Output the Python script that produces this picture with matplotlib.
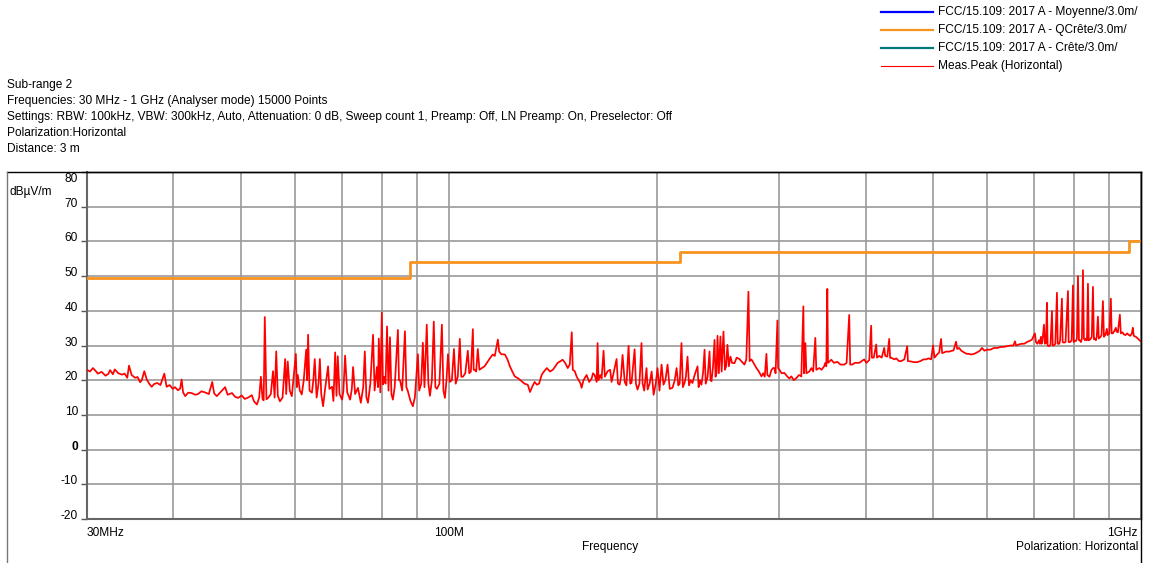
import numpy as np
from matplotlib import pyplot as plt
from matplotlib.lines import Line2D
from matplotlib.ticker import FixedLocator, NullFormatter

plt.rcParams['font.family'] = ['Liberation Sans', 'DejaVu Sans']

W, H = 1149, 563
FS = 8.6

# FCC 15.109 class A limit at 3 m (QCrete), step edges in MHz
limit_freq = [30, 88, 88, 216, 216, 960, 960, 1000]
limit_level = [49.5, 49.5, 54.0, 54.0, 56.9, 56.9, 60.0, 60.0]

meas_freq = [
    30.0, 30.3, 30.6, 30.9, 31.1, 31.5, 31.9, 32.2, 32.4, 32.7, 32.9, 33.3, 33.7, 34.0, 34.3, 34.5,
    34.8, 35.2, 35.5, 35.8, 36.0, 36.3, 36.6, 36.9, 37.2, 37.5, 37.9, 38.3, 38.8, 39.1, 39.5, 39.9,
    40.2, 40.6, 40.9, 41.1, 41.3, 41.6, 42.0, 42.5, 43.0, 43.4, 43.9, 44.4, 45.0, 45.5, 45.8, 46.2,
    46.8, 47.5, 47.9, 48.6, 49.1, 49.6, 50.2, 50.7, 51.3, 51.9, 52.3, 52.8, 53.2, 53.5, 53.8, 54.0,
    54.2, 54.5, 54.8, 55.3, 55.7, 56.0, 56.3, 56.6, 57.0, 57.5, 58.0, 58.2, 58.5, 58.9, 59.3, 59.6,
    60.1, 60.3, 60.5, 60.9, 61.3, 61.7, 62.2, 62.4, 62.6, 62.9, 63.4, 63.7, 64.0, 64.4, 64.8, 65.1,
    65.4, 65.8, 66.2, 66.9, 67.2, 67.8, 68.1, 68.5, 68.8, 69.1, 69.5, 70.1, 70.4, 70.8, 71.3, 72.0,
    72.4, 72.7, 73.2, 73.9, 74.6, 75.2, 75.6, 76.0, 76.4, 77.0, 77.7, 78.1, 78.7, 79.0, 79.2, 79.6,
    80.0, 80.3, 80.6, 81.0, 81.4, 81.8, 82.2, 82.6, 83.0, 83.5, 84.4, 84.7, 85.0, 85.6, 86.4, 86.8,
    87.2, 88.0, 88.7, 89.3, 90.2, 90.6, 91.2, 91.7, 92.2, 92.9, 93.4, 93.9, 94.5, 95.1, 95.6, 96.1,
    96.9, 97.7, 98.2, 98.7, 99.2, 99.7, 100.3, 101.0, 101.7, 102.3, 103.0, 103.7, 104.2, 104.8, 105.6, 106.5,
    107.0, 107.6, 108.3, 108.6, 109.0, 109.5, 110.1, 110.7, 111.6, 112.6, 113.8, 114.8, 115.7, 116.5, 117.7, 118.2,
    119.0, 120.5, 121.5, 122.5, 123.5, 124.5, 126.0, 127.4, 128.6, 130.0, 131.0, 132.0, 133.0, 134.0, 135.0, 136.2,
    137.2, 138.5, 140.0, 141.3, 142.5, 143.6, 145.0, 146.0, 147.2, 148.5, 149.5, 150.5, 151.0, 152.0, 153.0, 153.5,
    155.0, 155.5, 156.5, 158.1, 159.5, 160.8, 161.5, 162.4, 163.5, 164.0, 164.5, 165.5, 166.2, 167.3, 168.0, 169.6,
    171.0, 171.8, 172.5, 174.7, 175.5, 176.5, 177.3, 178.2, 179.5, 180.5, 181.8, 182.8, 183.6, 185.5, 186.3, 187.3,
    188.5, 189.8, 190.5, 191.5, 193.0, 193.7, 195.0, 196.3, 197.6, 199.0, 200.2, 201.5, 202.9, 204.2, 205.5, 207.0,
    208.5, 210.4, 212.0, 213.3, 214.5, 215.5, 216.8, 217.8, 219.0, 220.0, 221.2, 222.3, 223.5, 224.9, 226.5, 228.7,
    229.5, 230.5, 231.7, 232.9, 234.1, 235.0, 236.5, 238.0, 238.8, 239.6, 240.8, 242.0, 242.8, 243.6, 244.4, 245.5,
    246.8, 247.8, 249.3, 250.5, 251.5, 252.6, 253.8, 255.2, 256.5, 258.6, 260.5, 262.9, 264.5, 267.3, 269.0, 270.9,
    272.0, 273.6, 275.5, 278.2, 280.5, 282.9, 284.5, 286.0, 287.6, 288.5, 290.5, 292.4, 294.0, 295.3, 296.5, 298.3,
    299.0, 300.3, 302.5, 305.3, 308.5, 310.5, 312.5, 315.0, 317.7, 320.5, 323.0, 325.2, 326.0, 327.4, 328.5, 331.7,
    334.0, 336.0, 338.4, 339.5, 342.9, 345.5, 348.5, 349.8, 351.0, 352.2, 353.0, 356.9, 360.0, 364.1, 368.0, 372.6,
    375.5, 378.8, 380.0, 382.6, 386.0, 391.6, 395.0, 398.2, 401.0, 404.9, 407.5, 408.5, 411.0, 414.4, 415.5, 418.6,
    422.0, 425.6, 427.0, 430.0, 432.7, 434.0, 435.6, 440.0, 442.9, 447.0, 450.3, 455.0, 459.4, 460.5, 465.0, 470.0,
    474.9, 480.0, 485.0, 489.2, 493.0, 497.4, 500.7, 503.0, 507.4, 511.0, 514.2, 516.0, 519.4, 524.0, 527.0, 531.5,
    536.0, 540.5, 542.5, 545.9, 550.0, 555.0, 560.0, 564.0, 568.1, 574.0, 579.5, 585.0, 589.2, 594.0, 599.0, 606.0,
    613.1, 620.0, 627.6, 634.0, 640.2, 648.0, 654.0, 657.5, 660.0, 666.3, 672.0, 678.0, 684.3, 690.0, 695.7, 702.7,
    705.0, 708.0, 712.1, 714.0, 716.9, 718.0, 720.0, 724.1, 726.5, 729.0, 731.3, 733.0, 736.2, 740.0, 743.6, 745.5,
    748.6, 752.0, 756.1, 758.0, 762.0, 764.0, 768.7, 770.5, 773.9, 778.0, 784.3, 786.0, 790.0, 794.0, 797.4, 799.5,
    802.0, 805.4, 808.0, 810.8, 813.5, 816.0, 818.9, 821.5, 824.4, 827.0, 830.0, 832.6, 835.5, 838.2, 840.5, 845.0,
    849.0, 852.2, 855.0, 858.0, 860.7, 863.0, 866.5, 869.0, 874.0, 877.0, 881.0, 884.0, 888.0, 892.7, 895.0, 900.0,
    904.6, 907.0, 910.7, 914.0, 919.8, 922.0, 926.0, 932.1, 935.0, 940.0, 944.6, 950.0, 955.0, 960.4, 965.0, 970.0,
    973.3, 976.0, 983.0, 990.0, 996.0, 1000.0,
]
meas_level = [
    23.0, 22.5, 23.5, 22.6, 21.9, 22.4, 21.3, 21.8, 22.9, 21.7, 23.1, 22.0, 21.6, 21.9, 20.7, 24.2,
    21.5, 20.7, 20.9, 19.4, 20.0, 22.6, 20.2, 19.0, 18.1, 18.9, 19.2, 18.6, 21.9, 18.1, 18.6, 17.5,
    18.0, 17.1, 17.6, 20.2, 16.5, 15.4, 16.4, 16.3, 15.8, 16.0, 16.8, 16.5, 16.0, 19.5, 16.2, 15.4,
    16.6, 18.0, 15.8, 16.3, 15.2, 14.9, 15.6, 14.6, 15.0, 15.7, 13.9, 13.0, 15.0, 21.0, 14.5, 14.2,
    38.2, 14.5, 14.9, 16.0, 22.6, 15.0, 28.3, 15.5, 13.9, 15.0, 26.1, 16.0, 25.4, 17.0, 15.4, 20.0,
    27.6, 18.0, 21.5, 17.0, 15.9, 20.0, 28.8, 20.0, 33.1, 17.0, 16.4, 20.0, 26.1, 15.0, 19.0, 26.1,
    16.0, 12.5, 17.0, 24.0, 17.5, 18.1, 14.0, 28.0, 15.5, 26.9, 16.0, 14.4, 17.0, 27.1, 16.5, 14.4,
    17.5, 23.8, 16.0, 17.8, 13.5, 18.0, 28.3, 15.0, 13.5, 19.0, 33.1, 17.0, 23.8, 18.0, 32.0, 16.5,
    39.5, 18.8, 21.0, 19.0, 35.5, 17.0, 32.4, 16.0, 14.4, 18.0, 34.5, 20.0, 20.0, 17.0, 34.1, 18.0,
    17.0, 14.0, 12.5, 15.0, 27.5, 17.0, 19.0, 30.8, 18.0, 36.0, 19.0, 15.5, 20.0, 36.9, 18.0, 17.5,
    19.0, 36.0, 17.0, 14.9, 20.0, 27.5, 19.5, 20.0, 29.0, 19.0, 21.0, 31.9, 21.0, 21.0, 22.0, 28.5,
    22.0, 22.5, 34.7, 23.0, 23.0, 22.5, 29.0, 23.0, 23.5, 24.0, 25.4, 26.5, 27.4, 27.0, 31.7, 28.3,
    27.5, 27.4, 26.0, 24.0, 22.5, 21.1, 20.5, 19.7, 19.0, 18.7, 16.6, 18.2, 19.5, 18.7, 19.0, 21.6,
    22.5, 23.5, 22.5, 23.0, 24.0, 25.0, 25.5, 25.9, 25.0, 23.5, 24.5, 33.8, 23.0, 22.6, 21.0, 20.5,
    19.0, 17.8, 20.0, 21.5, 19.5, 20.5, 22.0, 21.5, 19.5, 30.7, 20.0, 21.5, 20.5, 28.5, 21.0, 22.6,
    23.0, 19.5, 21.0, 26.1, 19.0, 18.7, 21.0, 27.3, 19.5, 18.5, 29.9, 19.0, 19.2, 28.9, 19.0, 17.3,
    19.0, 30.7, 19.0, 17.0, 23.5, 17.3, 19.0, 22.5, 15.8, 19.0, 23.5, 17.0, 24.5, 18.7, 20.0, 24.5,
    17.5, 17.8, 20.0, 23.5, 18.5, 19.0, 30.7, 18.0, 19.2, 21.0, 26.8, 18.5, 20.0, 19.2, 21.5, 24.0,
    18.0, 20.0, 18.7, 22.0, 28.8, 19.0, 21.0, 28.3, 20.0, 19.7, 24.0, 31.6, 21.0, 22.0, 32.8, 22.0,
    32.6, 22.5, 34.0, 23.0, 24.0, 30.2, 24.0, 26.8, 25.0, 24.9, 26.5, 26.1, 25.5, 24.5, 26.0, 45.5,
    25.5, 26.0, 25.0, 23.5, 22.5, 21.1, 22.0, 21.0, 27.6, 21.5, 21.0, 22.9, 23.5, 23.5, 22.0, 37.2,
    23.5, 23.0, 22.0, 22.1, 21.0, 20.5, 21.1, 20.0, 20.6, 21.5, 21.1, 41.3, 22.0, 30.7, 22.0, 22.5,
    23.5, 22.5, 32.2, 23.0, 23.5, 23.0, 24.0, 25.0, 24.0, 46.3, 25.0, 25.9, 25.0, 25.3, 24.5, 24.5,
    25.0, 38.8, 24.5, 24.5, 25.0, 25.0, 25.5, 26.0, 25.0, 25.8, 35.7, 26.5, 26.5, 30.3, 26.5, 27.0,
    26.5, 29.3, 27.0, 26.8, 31.9, 26.4, 26.5, 26.0, 26.3, 25.5, 25.5, 26.0, 29.8, 25.5, 25.4, 25.2,
    25.2, 25.5, 26.0, 26.0, 26.3, 26.0, 30.0, 26.5, 27.4, 28.0, 31.9, 27.8, 28.0, 28.3, 28.2, 28.4,
    28.6, 31.1, 29.0, 29.3, 28.5, 28.0, 27.6, 27.6, 27.4, 27.6, 28.0, 28.5, 29.3, 28.5, 28.8, 28.8,
    29.3, 29.3, 29.6, 29.6, 29.8, 30.0, 30.0, 31.2, 30.0, 30.3, 30.5, 30.5, 31.0, 31.3, 31.7, 33.5,
    31.0, 30.5, 31.5, 30.5, 32.5, 30.5, 30.8, 36.0, 30.5, 30.7, 42.3, 30.0, 29.8, 30.2, 39.9, 30.0,
    30.0, 30.5, 45.2, 30.5, 30.5, 31.5, 43.5, 31.0, 30.8, 31.0, 45.7, 31.0, 31.0, 31.5, 47.3, 31.0,
    31.3, 31.3, 32.0, 50.0, 31.5, 31.5, 31.0, 32.0, 51.7, 32.0, 31.5, 32.0, 31.5, 47.8, 31.5, 31.8,
    32.5, 46.9, 31.8, 32.0, 31.5, 32.5, 38.3, 32.0, 32.5, 33.0, 42.8, 32.5, 33.0, 34.8, 33.0, 33.5,
    43.5, 33.5, 33.5, 34.0, 35.1, 34.0, 33.8, 38.9, 33.5, 33.8, 33.2, 33.0, 33.5, 33.0, 32.8, 33.5,
    35.1, 32.8, 32.5, 32.0, 31.4, 31.2,
]

legend_labels = [
    'FCC/15.109: 2017 A - Moyenne/3.0m/',
    'FCC/15.109: 2017 A - QCrête/3.0m/',
    'FCC/15.109: 2017 A - Crête/3.0m/',
    'Meas.Peak (Horizontal)',
]
legend_colors = ['#0000ff', '#f7931e', '#007b7b', '#ff0000']
legend_widths = [1.6, 1.6, 1.6, 0.8]

header_lines = [
    'Sub-range 2',
    'Frequencies: 30 MHz - 1 GHz (Analyser mode) 15000 Points',
    'Settings: RBW: 100kHz, VBW: 300kHz, Auto, Attenuation: 0 dB, Sweep count 1, Preamp: Off, LN Preamp: On, Preselector: Off',
    'Polarization:Horizontal',
    'Distance: 3 m',
]

y_ticks = [-20, -10, 0, 10, 20, 30, 40, 50, 60, 70, 80]
x_minor = [40, 50, 60, 70, 80, 90, 200, 300, 400, 500, 600, 700, 800, 900]
x_major = [30, 100, 1000]
x_labels = ['30MHz', '100M', '1GHz']


def fx(px):
    return px / W


def fy(py):
    return 1 - py / H


fig = plt.figure(figsize=(W / 100, H / 100), dpi=100)
ax = fig.add_axes([fx(87), fy(519), fx(1141) - fx(87), fy(172) - fy(519)])

ax.set_xscale('log')
ax.set_xlim(30, 1000)
ax.set_ylim(-20, 80)

ax.plot(meas_freq, meas_level, color='#ff0000', lw=1.25, zorder=3)
ax.plot(limit_freq, limit_level, color='#f7931e', lw=2.0, zorder=4)

# grid
ax.xaxis.set_major_locator(FixedLocator(x_major))
ax.xaxis.set_minor_locator(FixedLocator(x_minor))
ax.xaxis.set_minor_formatter(NullFormatter())
ax.set_xticklabels([])
ax.tick_params(axis='x', which='both', length=0)
ax.set_yticks(y_ticks)
ax.set_yticklabels([])
ax.tick_params(axis='y', length=4, width=1, color='#555555', direction='out')
ax.grid(True, which='both', color='#9a9a9a', lw=1.2, zorder=0)
ax.set_axisbelow(True)

for side in ['left', 'bottom']:
    ax.spines[side].set_color('#666666')
    ax.spines[side].set_linewidth(1.5)
for side in ['top', 'right']:
    ax.spines[side].set_color('black')
    ax.spines[side].set_linewidth(1.0)

# y labels
for v in y_ticks:
    ypx = 519 - (v + 20) * (519 - 172) / 100.0 - 3
    if v == 80:
        ypx = 179
    fig.text(fx(78), fy(ypx), str(v), ha='right', va='center', fontsize=FS,
             fontweight='bold' if v == 0 else 'normal')

# x labels
fig.text(fx(87), fy(533), x_labels[0], ha='left', va='center', fontsize=FS)
ax.text(100, fy(533), x_labels[1], transform=ax.get_xaxis_transform().__class__(ax.transData, fig.transFigure),
        ha='center', va='center', fontsize=FS)
fig.text(fx(1138), fy(533), x_labels[2], ha='right', va='center', fontsize=FS)
fig.text(fx(610), fy(547), 'Frequency', ha='center', va='center', fontsize=FS)
fig.text(fx(1138), fy(547), 'Polarization: Horizontal', ha='right', va='center', fontsize=FS)
fig.text(fx(10), fy(192), 'dBµV/m', ha='left', va='center', fontsize=FS)

# outer frame
fig.add_artist(Line2D([fx(7), fx(1141)], [fy(172), fy(172)], color='black', lw=1.0))
fig.add_artist(Line2D([fx(7), fx(7)], [fy(172), fy(563)], color='#777777', lw=1.0))
fig.add_artist(Line2D([fx(1141), fx(1141)], [fy(172), fy(563)], color='black', lw=1.0))

# header
for i, line in enumerate(header_lines):
    fig.text(fx(7), fy(85 + 16 * i), line, ha='left', va='center', fontsize=FS)

# legend
for i, (lab, col, lw) in enumerate(zip(legend_labels, legend_colors, legend_widths)):
    ypx = 12 + 18 * i
    fig.add_artist(Line2D([fx(881), fx(933)], [fy(ypx), fy(ypx)], color=col, lw=lw))
    fig.text(fx(938), fy(ypx), lab, ha='left', va='center', fontsize=FS)

plt.savefig('out.png', dpi=100)
